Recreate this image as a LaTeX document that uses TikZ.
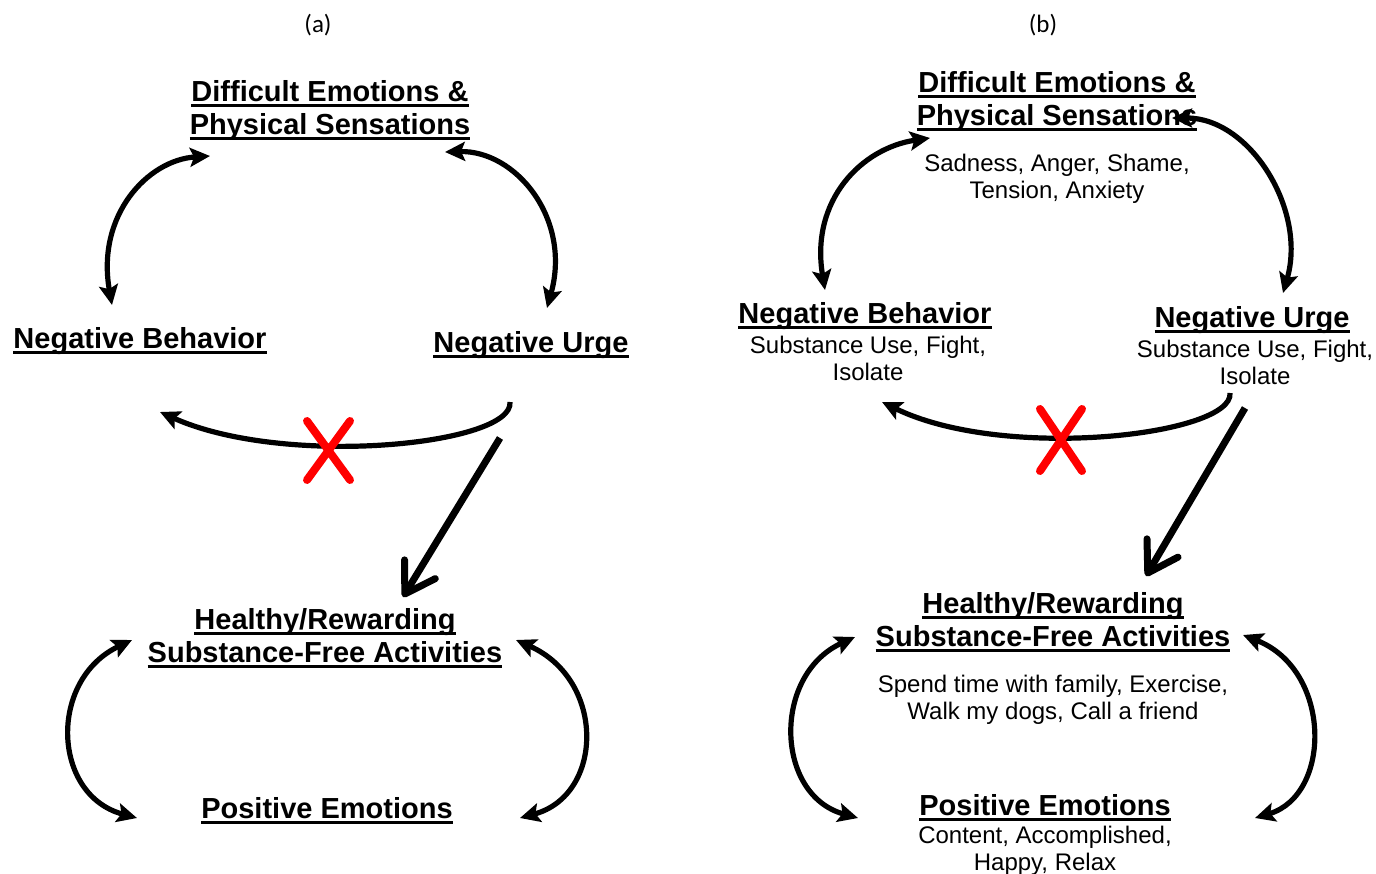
\documentclass[tikz,border=0pt]{standalone}
\usepackage{fontspec}
\setmainfont{Liberation Sans}
\newfontfamily\capfont{Carlito}
\usetikzlibrary{arrows.meta}
\newcommand\ulin[1]{\setbox0=\hbox{#1}\rlap{\rule[-5.5pt]{\wd0}{3pt}}\box0}
\tikzset{
 head/.style={font=\bfseries\fontsize{29}{33}\selectfont, align=center, inner sep=0pt, anchor=base},
 subtext/.style={font=\fontsize{24}{27}\selectfont, align=center, inner sep=0pt, anchor=base},
 captext/.style={font=\capfont\fontsize{25}{30}\selectfont, inner sep=0pt, anchor=base},
 cyc/.style={line width=5.2pt, {Stealth[length=20pt,width=19pt,inset=4pt]}-{Stealth[length=20pt,width=19pt,inset=4pt]}},
 onehead/.style={line width=5.2pt, -{Stealth[length=20pt,width=19pt,inset=4pt]}},
 goarrow/.style={line width=7pt, -{Straight Barb[length=29pt,width=36pt,line width=7pt,round]}},
 cross/.style={red, line width=8pt, line cap=round}
}
\begin{document}
\begin{tikzpicture}[x=1pt,y=-1pt]
\useasboundingbox (0,0) rectangle (1376,874);
% ---------- panel (a)
\node[captext] (capA) at (318,33) {(a)};
\node[head] (deA) at (330,135) {\ulin{Difficult Emotions \&}\\\ulin{Physical Sensations}};
\node[head] (nbA) at (140,349) {\ulin{Negative Behavior}};
\node[head] (nuA) at (531,353) {\ulin{Negative Urge}};
\node[head] (hrA) at (325,662) {\ulin{Healthy/Rewarding}\\\ulin{Substance-Free Activities}};
\node[head] (peA) at (327,818) {\ulin{Positive Emotions}};

\coordinate (a1s) at (112,305); \coordinate (a1e) at (210,156);
\coordinate (a2s) at (445,152); \coordinate (a2e) at (547,308);
\coordinate (a3s) at (510,402); \coordinate (a3e) at (160,412);
\coordinate (a4s) at (500,438); \coordinate (a4e) at (403,597);
\coordinate (a5s) at (132,640); \coordinate (a5e) at (137,818);
\coordinate (a6s) at (516,640); \coordinate (a6e) at (520,818);

\draw[cyc] (a1s) .. controls (96,215) and (148,160) .. (a1e);
\draw[cyc] (a2s) .. controls (515,150) and (572,218) .. (a2e);
\draw[onehead] (a3s) .. controls (514,445) and (285,468) .. (a3e);
\draw[goarrow] (a4s) -- (a4e);
\draw[cyc] (a5s) .. controls (48,680) and (52,795) .. (a5e);
\draw[cyc] (a6s) .. controls (606,680) and (604,795) .. (a6e);
\draw[cross] (307,421) -- (350,480) (350,421) -- (307,480);

% ---------- panel (b)
\node[captext] (capB) at (1043,33) {(b)};
\node[head] (deB) at (1057,126) {\ulin{Difficult Emotions \&}\\\ulin{Physical Sensations}};
\node[subtext] (deBs) at (1057,198.5) {Sadness, Anger, Shame,\\Tension, Anxiety};
\node[head] (nbB) at (865,324) {\ulin{Negative Behavior}};
\node[subtext] (nbBs) at (868,380.5) {Substance Use, Fight,\\Isolate};
\node[head] (nuB) at (1252,328) {\ulin{Negative Urge}};
\node[subtext] (nuBs) at (1255,384.5) {Substance Use, Fight,\\Isolate};
\node[head] (hrB) at (1053,646) {\ulin{Healthy/Rewarding}\\\ulin{Substance-Free Activities}};
\node[subtext] (hrBs) at (1053,719.5) {Spend time with family, Exercise,\\Walk my dogs, Call a friend};
\node[head] (peB) at (1045,815) {\ulin{Positive Emotions}};
\node[subtext] (peBs) at (1045,870.5) {Content, Accomplished,\\Happy, Relax};

\coordinate (b1s) at (825,290); \coordinate (b1e) at (930,138);
\coordinate (b2s) at (1172,118); \coordinate (b2e) at (1283,293);
\coordinate (b3s) at (1230,393); \coordinate (b3e) at (882,402);
\coordinate (b4s) at (1245,408); \coordinate (b4e) at (1146,576);
\coordinate (b5s) at (855,637); \coordinate (b5e) at (858,818);
\coordinate (b6s) at (1243,635); \coordinate (b6e) at (1255,818);

\draw[cyc] (b1s) .. controls (810,200) and (862,148) .. (b1e);
\draw[cyc] (b2s) .. controls (1250,118) and (1307,210) .. (b2e);
\draw[onehead] (b3s) .. controls (1234,435) and (1005,462) .. (b3e);
\draw[goarrow] (b4s) -- (b4e);
\draw[cyc] (b5s) .. controls (772,675) and (775,795) .. (b5e);
\draw[cyc] (b6s) .. controls (1332,670) and (1332,795) .. (b6e);
\draw[cross] (1040,409) -- (1082,471) (1082,409) -- (1040,471);
\end{tikzpicture}
\end{document}
